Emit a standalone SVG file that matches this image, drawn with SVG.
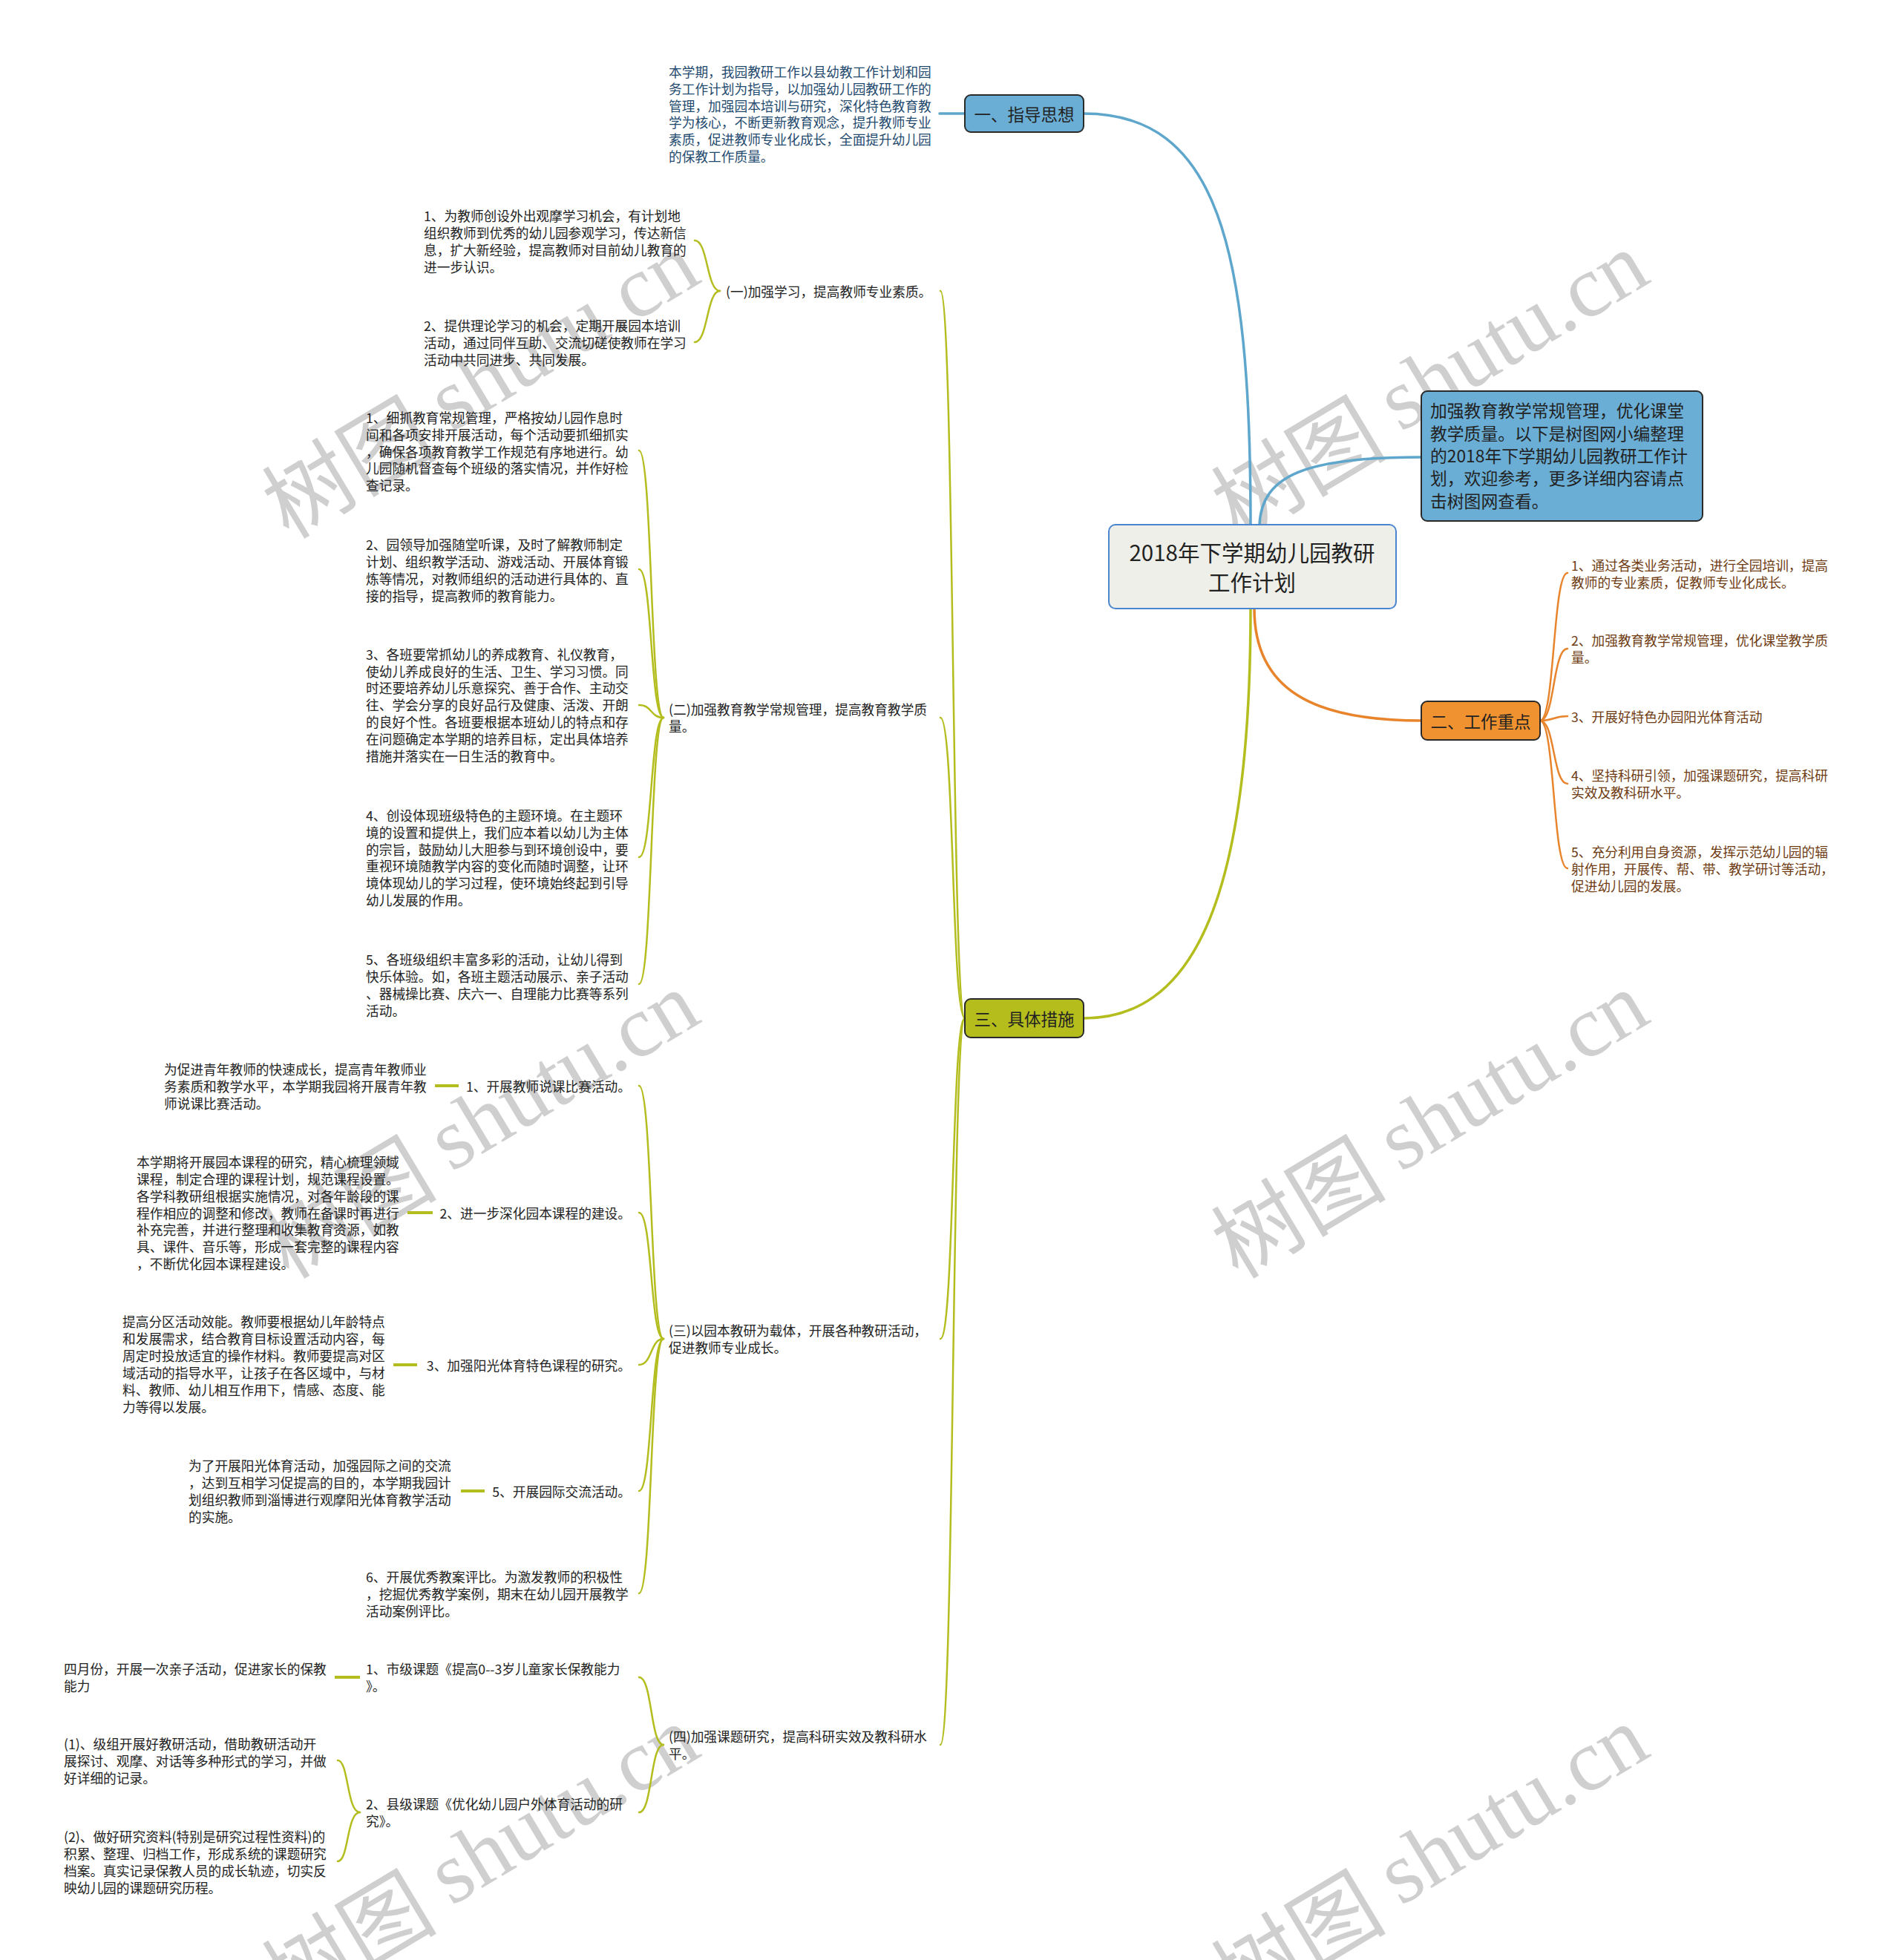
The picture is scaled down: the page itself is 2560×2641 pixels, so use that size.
<svg xmlns="http://www.w3.org/2000/svg" width="2560" height="2641" viewBox="0 0 2560 2641">
<style>
.t{font-family:"Noto Sans CJK SC","Noto Sans",sans-serif;font-size:17.7px;fill:#222;dominant-baseline:central}
.tb{fill:#1f4a6e}
.to{fill:#6e3b12}
.n{font-family:"Noto Sans CJK SC","Noto Sans",sans-serif;font-size:22.5px;fill:#222;dominant-baseline:central;text-anchor:middle}
.wm{font-family:"Noto Sans CJK SC",sans-serif;font-size:118px;fill:#cfcfcf;dominant-baseline:central;text-anchor:middle}
.wm tspan{font-family:"Liberation Serif",serif}
.cb{fill:none;stroke:#5ea6cc;stroke-width:3.5;stroke-linecap:round}
.co{fill:none;stroke:#e8842c;stroke-width:3.5;stroke-linecap:round}
.co2{fill:none;stroke:#e8842c;stroke-width:2.5;stroke-linecap:round}
.cg{fill:none;stroke:#b4bd1e;stroke-width:3.5;stroke-linecap:round}
.cg2{fill:none;stroke:#b4bd1e;stroke-width:2.5;stroke-linecap:round}
.cgs{fill:none;stroke:#b4bd1e;stroke-width:4}
.box{stroke:#2a2a2a;stroke-width:2}
</style>
<rect width="2560" height="2641" fill="#ffffff"/>
<g id="watermarks">
<text class="wm" transform="translate(645 514) rotate(-31)">树图 <tspan>shutu.cn</tspan></text>
<text class="wm" transform="translate(1924 514) rotate(-31)">树图 <tspan>shutu.cn</tspan></text>
<text class="wm" transform="translate(645 1511) rotate(-31)">树图 <tspan>shutu.cn</tspan></text>
<text class="wm" transform="translate(1924 1511) rotate(-31)">树图 <tspan>shutu.cn</tspan></text>
<text class="wm" transform="translate(645 2500) rotate(-31)">树图 <tspan>shutu.cn</tspan></text>
<text class="wm" transform="translate(1924 2500) rotate(-31)">树图 <tspan>shutu.cn</tspan></text>
</g>
<g id="connectors">
<path class="cb" d="M1460 153 C1640 153 1685 330 1685 707"/>
<path class="cb" d="M1697 707 C1700 640 1760 616 1915 616"/>
<path class="cb" d="M1266 153 H1300"/>
<path class="co" d="M1690 820 C1690 930 1770 971 1915 971"/>
<path class="co2" d="M2075 971 C2095 971 2092 772 2112 772"/>
<path class="co2" d="M2075 971 C2095 971 2092 874 2112 874"/>
<path class="co2" d="M2075 971 C2095 971 2092 965 2112 965"/>
<path class="co2" d="M2075 971 C2095 971 2092 1056 2112 1056"/>
<path class="co2" d="M2075 971 C2095 971 2092 1170 2112 1170"/>
<path class="cg" d="M1685 820 C1685 1230 1600 1372 1460 1372"/>
<path class="cg2" d="M1300 1372 C1282 1372 1286 392 1267 392"/>
<path class="cg2" d="M1300 1372 C1282 1372 1286 967 1267 967"/>
<path class="cg2" d="M1300 1372 C1282 1372 1286 1804 1267 1804"/>
<path class="cg2" d="M1300 1372 C1282 1372 1286 2351 1267 2351"/>
<path class="cg2" d="M970 392 C952 392 954 324 936 324"/>
<path class="cg2" d="M970 392 C952 392 954 461 936 461"/>
<path class="cg2" d="M894 967 C876 967 879 607 861 607"/>
<path class="cg2" d="M894 967 C876 967 879 767 861 767"/>
<path class="cg2" d="M894 967 C876 967 879 950 861 950"/>
<path class="cg2" d="M894 967 C876 967 879 1155 861 1155"/>
<path class="cg2" d="M894 967 C876 967 879 1326 861 1326"/>
<path class="cg2" d="M894 1804 C876 1804 879 1463 861 1463"/>
<path class="cg2" d="M894 1804 C876 1804 879 1634 861 1634"/>
<path class="cg2" d="M894 1804 C876 1804 879 1839 861 1839"/>
<path class="cg2" d="M894 1804 C876 1804 879 2009 861 2009"/>
<path class="cg2" d="M894 1804 C876 1804 879 2147 861 2147"/>
<path class="cg2" d="M894 2351 C876 2351 879 2260 861 2260"/>
<path class="cg2" d="M894 2351 C876 2351 879 2442 861 2442"/>
<path class="cg2" d="M485 2442 C467 2442 470 2372 455 2372"/>
<path class="cg2" d="M485 2442 C467 2442 470 2508 455 2508"/>
<path class="cgs" d="M586 1463 H618"/>
<path class="cgs" d="M549 1634 H583"/>
<path class="cgs" d="M530 1839 H562"/>
<path class="cgs" d="M621 2009 H653"/>
<path class="cgs" d="M451 2260 H485"/>
</g>
<g id="root">
<rect x="1494" y="707" width="387" height="113" rx="9" fill="#efefe9" stroke="#4a86cf" stroke-width="2"/>
<text class="n" x="1687" y="743" style="font-size:29.5px">2018年下学期幼儿园教研</text>
<text class="n" x="1687" y="783" style="font-size:29.5px">工作计划</text>
</g>
<g id="n1">
<rect class="box" x="1300" y="128" width="160" height="50" rx="8" fill="#6aaed5"/>
<text class="n" x="1380" y="153">一、指导思想</text>
</g>
<g id="n1-desc">
<text class="t tb" x="901" y="96">本学期，我园教研工作以县幼教工作计划和园</text>
<text class="t tb" x="901" y="119">务工作计划为指导，以加强幼儿园教研工作的</text>
<text class="t tb" x="901" y="142">管理，加强园本培训与研究，深化特色教育教</text>
<text class="t tb" x="901" y="164">学为核心，不断更新教育观念，提升教师专业</text>
<text class="t tb" x="901" y="187">素质，促进教师专业化成长，全面提升幼儿园</text>
<text class="t tb" x="901" y="210">的保教工作质量。</text>
</g>
<g id="summary">
<rect class="box" x="1915" y="527" width="379" height="175" rx="8" fill="#6aaed5"/>
<text class="t" x="1927" y="552" style="font-size:22.8px">加强教育教学常规管理，优化课堂</text>
<text class="t" x="1927" y="583" style="font-size:22.8px">教学质量。以下是树图网小编整理</text>
<text class="t" x="1927" y="613" style="font-size:22.8px">的2018年下学期幼儿园教研工作计</text>
<text class="t" x="1927" y="643" style="font-size:22.8px">划，欢迎参考，更多详细内容请点</text>
<text class="t" x="1927" y="674" style="font-size:22.8px">击树图网查看。</text>
</g>
<g id="n2">
<rect class="box" x="1915" y="945" width="160" height="52" rx="8" fill="#f0922f"/>
<text class="n" x="1995" y="971">二、工作重点</text>
</g>
<g id="n2-items">
<text class="t to" x="2117" y="761">1、通过各类业务活动，进行全园培训，提高</text>
<text class="t to" x="2117" y="784">教师的专业素质，促教师专业化成长。</text>
<text class="t to" x="2117" y="862">2、加强教育教学常规管理，优化课堂教学质</text>
<text class="t to" x="2117" y="885">量。</text>
<text class="t to" x="2117" y="965">3、开展好特色办园阳光体育活动</text>
<text class="t to" x="2117" y="1044">4、坚持科研引领，加强课题研究，提高科研</text>
<text class="t to" x="2117" y="1067">实效及教科研水平。</text>
<text class="t to" x="2117" y="1147">5、充分利用自身资源，发挥示范幼儿园的辐</text>
<text class="t to" x="2117" y="1170">射作用，开展传、帮、带、教学研讨等活动，</text>
<text class="t to" x="2117" y="1193">促进幼儿园的发展。</text>
</g>
<g id="n3">
<rect class="box" x="1300" y="1346" width="160" height="52" rx="8" fill="#b5bd1d"/>
<text class="n" x="1380" y="1372">三、具体措施</text>
</g>
<g id="n3-1">
<text class="t" x="978" y="392">(一)加强学习，提高教师专业素质。</text>
<text class="t" x="571" y="290">1、为教师创设外出观摩学习机会，有计划地</text>
<text class="t" x="571" y="313">组织教师到优秀的幼儿园参观学习，传达新信</text>
<text class="t" x="571" y="336">息，扩大新经验，提高教师对目前幼儿教育的</text>
<text class="t" x="571" y="359">进一步认识。</text>
<text class="t" x="571" y="438">2、提供理论学习的机会，定期开展园本培训</text>
<text class="t" x="571" y="461">活动，通过同伴互助、交流切磋使教师在学习</text>
<text class="t" x="571" y="484">活动中共同进步、共同发展。</text>
</g>
<g id="n3-2">
<text class="t" x="901" y="955">(二)加强教育教学常规管理，提高教育教学质</text>
<text class="t" x="901" y="978">量。</text>
<text class="t" x="493" y="562">1、细抓教育常规管理，严格按幼儿园作息时</text>
<text class="t" x="493" y="585">间和各项安排开展活动，每个活动要抓细抓实</text>
<text class="t" x="493" y="608">，确保各项教育教学工作规范有序地进行。幼</text>
<text class="t" x="493" y="630">儿园随机督查每个班级的落实情况，并作好检</text>
<text class="t" x="493" y="653">查记录。</text>
<text class="t" x="493" y="733">2、园领导加强随堂听课，及时了解教师制定</text>
<text class="t" x="493" y="756">计划、组织教学活动、游戏活动、开展体育锻</text>
<text class="t" x="493" y="779">炼等情况，对教师组织的活动进行具体的、直</text>
<text class="t" x="493" y="802">接的指导，提高教师的教育能力。</text>
<text class="t" x="493" y="881">3、各班要常抓幼儿的养成教育、礼仪教育，</text>
<text class="t" x="493" y="904">使幼儿养成良好的生活、卫生、学习习惯。同</text>
<text class="t" x="493" y="926">时还要培养幼儿乐意探究、善于合作、主动交</text>
<text class="t" x="493" y="949">往、学会分享的良好品行及健康、活泼、开朗</text>
<text class="t" x="493" y="972">的良好个性。各班要根据本班幼儿的特点和存</text>
<text class="t" x="493" y="995">在问题确定本学期的培养目标，定出具体培养</text>
<text class="t" x="493" y="1018">措施并落实在一日生活的教育中。</text>
<text class="t" x="493" y="1098">4、创设体现班级特色的主题环境。在主题环</text>
<text class="t" x="493" y="1121">境的设置和提供上，我们应本着以幼儿为主体</text>
<text class="t" x="493" y="1144">的宗旨，鼓励幼儿大胆参与到环境创设中，要</text>
<text class="t" x="493" y="1166">重视环境随教学内容的变化而随时调整，让环</text>
<text class="t" x="493" y="1189">境体现幼儿的学习过程，使环境始终起到引导</text>
<text class="t" x="493" y="1212">幼儿发展的作用。</text>
<text class="t" x="493" y="1292">5、各班级组织丰富多彩的活动，让幼儿得到</text>
<text class="t" x="493" y="1315">快乐体验。如，各班主题活动展示、亲子活动</text>
<text class="t" x="493" y="1338">、器械操比赛、庆六一、自理能力比赛等系列</text>
<text class="t" x="493" y="1361">活动。</text>
</g>
<g id="n3-3">
<text class="t" x="901" y="1792">(三)以园本教研为载体，开展各种教研活动，</text>
<text class="t" x="901" y="1815">促进教师专业成长。</text>
<text class="t" x="850" y="1463" text-anchor="end">1、开展教师说课比赛活动。</text>
<text class="t" x="221" y="1440">为促进青年教师的快速成长，提高青年教师业</text>
<text class="t" x="221" y="1463">务素质和教学水平，本学期我园将开展青年教</text>
<text class="t" x="221" y="1486">师说课比赛活动。</text>
<text class="t" x="850" y="1634" text-anchor="end">2、进一步深化园本课程的建设。</text>
<text class="t" x="184" y="1565">本学期将开展园本课程的研究，精心梳理领域</text>
<text class="t" x="184" y="1588">课程，制定合理的课程计划，规范课程设置。</text>
<text class="t" x="184" y="1611">各学科教研组根据实施情况，对各年龄段的课</text>
<text class="t" x="184" y="1634">程作相应的调整和修改，教师在备课时再进行</text>
<text class="t" x="184" y="1656">补充完善，并进行整理和收集教育资源，如教</text>
<text class="t" x="184" y="1679">具、课件、音乐等，形成一套完整的课程内容</text>
<text class="t" x="184" y="1702">，不断优化园本课程建设。</text>
<text class="t" x="850" y="1839" text-anchor="end">3、加强阳光体育特色课程的研究。</text>
<text class="t" x="165" y="1780">提高分区活动效能。教师要根据幼儿年龄特点</text>
<text class="t" x="165" y="1803">和发展需求，结合教育目标设置活动内容，每</text>
<text class="t" x="165" y="1826">周定时投放适宜的操作材料。教师要提高对区</text>
<text class="t" x="165" y="1849">域活动的指导水平，让孩子在各区域中，与材</text>
<text class="t" x="165" y="1872">料、教师、幼儿相互作用下，情感、态度、能</text>
<text class="t" x="165" y="1895">力等得以发展。</text>
<text class="t" x="850" y="2009" text-anchor="end">5、开展园际交流活动。</text>
<text class="t" x="254" y="1974">为了开展阳光体育活动，加强园际之间的交流</text>
<text class="t" x="254" y="1997">，达到互相学习促提高的目的，本学期我园计</text>
<text class="t" x="254" y="2020">划组织教师到淄博进行观摩阳光体育教学活动</text>
<text class="t" x="254" y="2043">的实施。</text>
<text class="t" x="493" y="2124">6、开展优秀教案评比。为激发教师的积极性</text>
<text class="t" x="493" y="2147">，挖掘优秀教学案例，期末在幼儿园开展教学</text>
<text class="t" x="493" y="2170">活动案例评比。</text>
</g>
<g id="n3-4">
<text class="t" x="901" y="2339">(四)加强课题研究，提高科研实效及教科研水</text>
<text class="t" x="901" y="2362">平。</text>
<text class="t" x="493" y="2248">1、市级课题《提高0--3岁儿童家长保教能力</text>
<text class="t" x="493" y="2271">》。</text>
<text class="t" x="86" y="2248">四月份，开展一次亲子活动，促进家长的保教</text>
<text class="t" x="86" y="2271">能力</text>
<text class="t" x="493" y="2430">2、县级课题《优化幼儿园户外体育活动的研</text>
<text class="t" x="493" y="2453">究》。</text>
<text class="t" x="86" y="2349">(1)、级组开展好教研活动，借助教研活动开</text>
<text class="t" x="86" y="2372">展探讨、观摩、对话等多种形式的学习，并做</text>
<text class="t" x="86" y="2395">好详细的记录。</text>
<text class="t" x="86" y="2474">(2)、做好研究资料(特别是研究过程性资料)的</text>
<text class="t" x="86" y="2497">积累、整理、归档工作，形成系统的课题研究</text>
<text class="t" x="86" y="2520">档案。真实记录保教人员的成长轨迹，切实反</text>
<text class="t" x="86" y="2543">映幼儿园的课题研究历程。</text>
</g>
</svg>
